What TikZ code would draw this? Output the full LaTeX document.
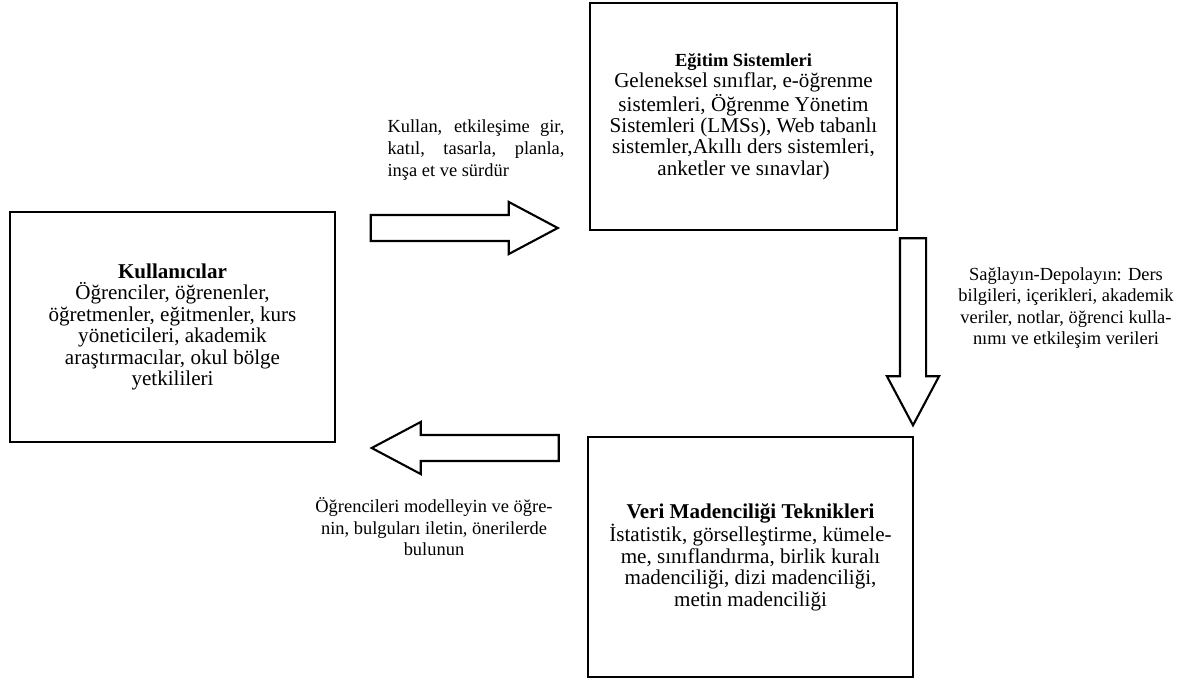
\documentclass[tikz,border=0pt]{standalone}
\usepackage{fontspec}
\setmainfont{Liberation Serif}
\usetikzlibrary{shapes.arrows}

\begin{document}
\begin{tikzpicture}[x=0.02cm,y=-0.02cm,
  kutu/.style={draw,line width=1.4pt,align=center,inner sep=0pt,
    font=\fontsize{12}{12.2}\selectfont},
  etiket/.style={align=center,inner sep=0pt,font=\fontsize{10.5}{12.3}\selectfont},
  okblok/.style={draw,line width=1.2pt,single arrow,inner xsep=0pt,inner ysep=0.24cm,
    minimum height=3.74cm,minimum width=1cm,
    single arrow head extend=0.26cm,single arrow tip angle=56}]
  \useasboundingbox (0,0) rectangle (1181,682);

  % kutular
  \node[kutu,minimum width=6.5cm,minimum height=4.6cm] (kul) at (172.5,327)
    {\textbf{Kullanıcılar}\\ Öğrenciler, öğrenenler,\\ öğretmenler, eğitmenler, kurs\\
     yöneticileri, akademik\\ araştırmacılar, okul bölge\\ yetkilileri};
  \node[kutu,minimum width=6.14cm,minimum height=4.54cm] (egt) at (743.5,116.5)
    {{\fontsize{10.5}{11}\selectfont\bfseries Eğitim Sistemleri}\\
     Geleneksel sınıflar, e-öğrenme\\ sistemleri, Öğrenme Yönetim\\
     Sistemleri (LMSs), Web tabanlı\\ sistemler,Akıllı ders sistemleri,\\ anketler ve sınavlar)};
  \node[kutu,minimum width=6.5cm,minimum height=4.8cm] (veri) at (750.5,557)
    {\textbf{Veri Madenciliği Teknikleri}\\ İstatistik, görselleştirme, kümele-\\
     me, sınıflandırma, birlik kuralı\\ madenciliği, dizi madenciliği,\\ metin madenciliği};

  % oklar
  \node[okblok] (okKul) at (452,228) {};
  \node[okblok,rotate=-90] (okEgt) at (913,319.5) {};
  \node[okblok,rotate=180] (okVeri) at (477.5,448) {};

  % etiketler
  \node[etiket,text width=3.54cm,align=justify] (etKul) at (476,150)
    {Kullan, etkileşime gir,\linebreak katıl, tasarla, planla,\linebreak inşa et ve sürdür};
  \node[etiket] (etEgt) at (1066,308)
    {Sağlayın-Depolayın: Ders\\ bilgileri, içerikleri, akademik\\
     veriler, notlar, öğrenci kulla-\\ nımı ve etkileşim verileri};
  \node[etiket] (etVeri) at (434,527)
    {Öğrencileri modelleyin ve öğre-\\ nin, bulguları iletin, önerilerde\\ bulunun};
\end{tikzpicture}
\end{document}
